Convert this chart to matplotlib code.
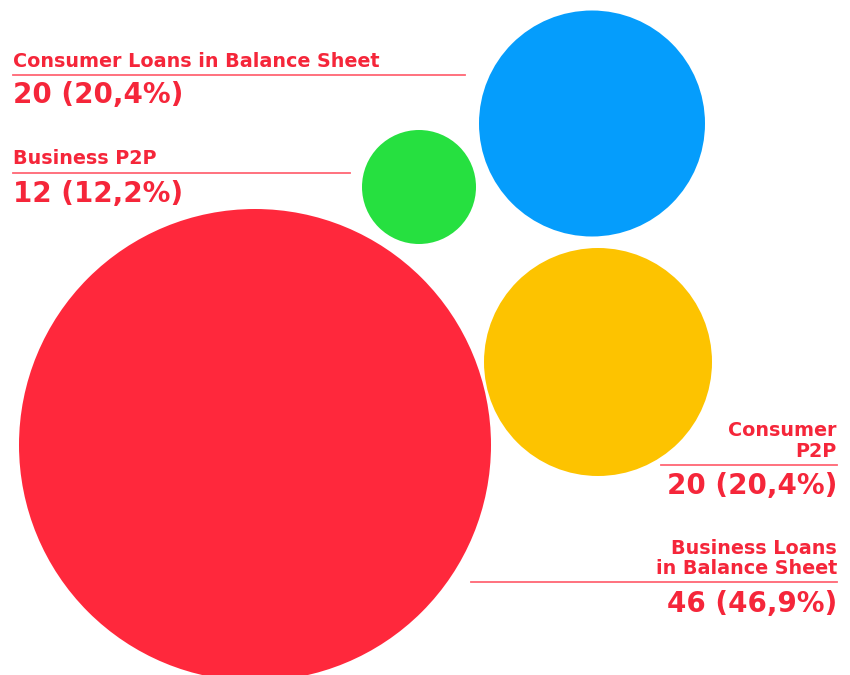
import matplotlib.pyplot as plt
from matplotlib.patches import Circle

# Data
categories = ['Consumer Loans in Balance Sheet', 'Business P2P', 'Consumer\nP2P',
              'Business Loans\nin Balance Sheet']
counts = [20, 12, 20, 46]
shares = [20.4, 12.2, 20.4, 46.9]

# Layout (pixel coordinates, y pointing down)
centers = [(592, 123.5), (419, 187), (598, 362), (255, 445)]
radii = [113, 57, 114, 236]
colors = ['#059dfc', '#26e040', '#fdc300', '#ff283c']
text_x = [13, 13, 837, 837]
align = ['left', 'left', 'right', 'right']
label_y = [67.3, 164, 457.3, 574.5]
rule_y = [75, 172.5, 464.5, 581.7]
value_y = [103, 201.5, 494, 611.5]
rule_x = [(13, 465), (13, 350), (661, 837), (471, 837)]

text_red = '#f5263a'
rule_red = '#ff6674'
font = 'DejaVu Sans'

fig = plt.figure(figsize=(8.5, 6.75), dpi=100)
ax = fig.add_axes([0, 0, 1, 1])
ax.set_xlim(0, 850)
ax.set_ylim(675, 0)
ax.axis('off')

for (cx, cy), r, c in zip(centers, radii, colors):
    ax.add_patch(Circle((cx, cy), r, facecolor=c, edgecolor='none', zorder=1))

for i in range(len(categories)):
    x, ha = text_x[i], align[i]
    ax.text(x, label_y[i], categories[i], ha=ha, va='baseline', ma=ha, color=text_red,
            fontsize=13.8, fontweight='bold', family=font, linespacing=1.13, zorder=3)
    ax.plot(rule_x[i], [rule_y[i], rule_y[i]], color=rule_red, lw=1.3, zorder=2)
    val = f'{counts[i]} ({shares[i]:.1f}%)'.replace('.', ',')
    ax.text(x, value_y[i], val, ha=ha, va='baseline', color=text_red,
            fontsize=20, fontweight='bold', family=font, zorder=3)

fig.savefig('out.png', dpi=100)
